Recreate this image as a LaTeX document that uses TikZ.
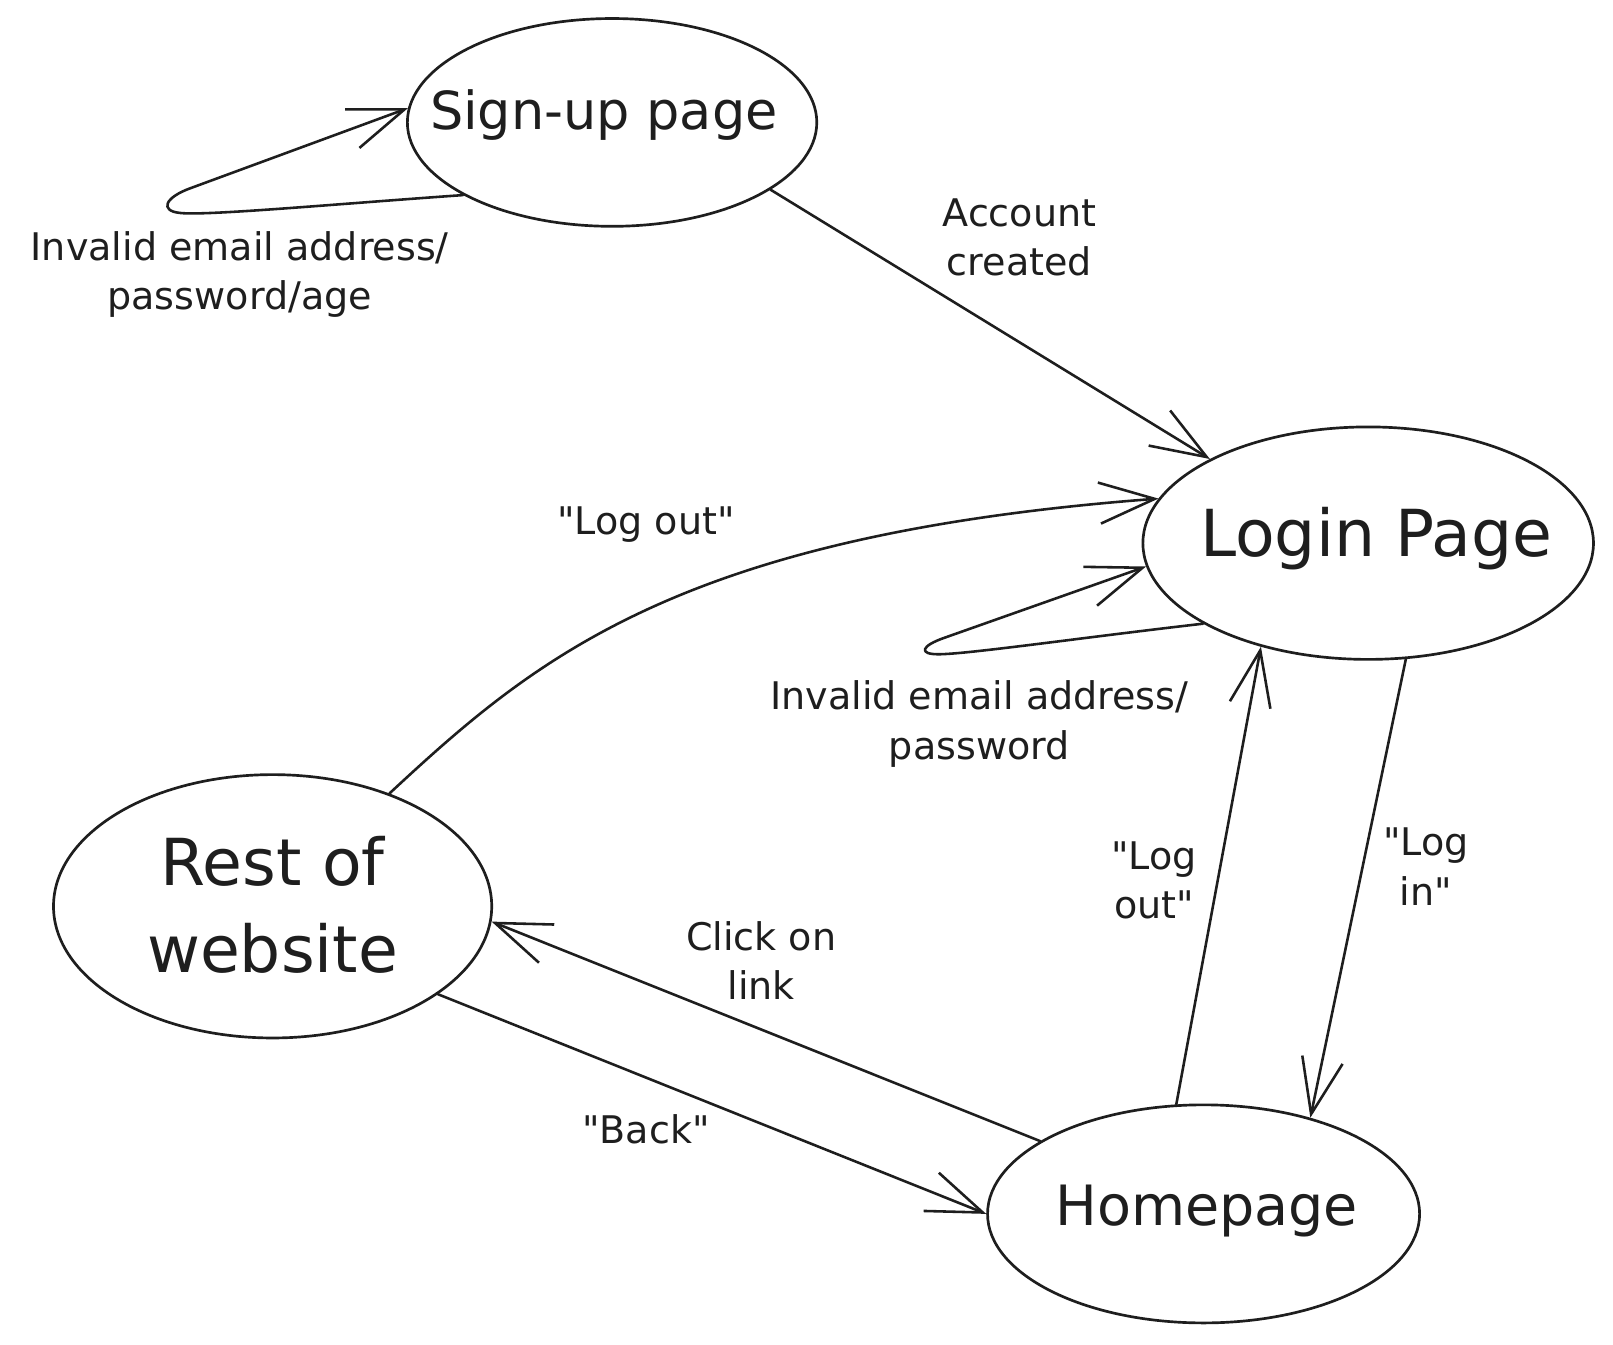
\documentclass[tikz,border=0pt]{standalone}
\usepackage{fontspec}
\setmainfont{DejaVu Sans}[Ligatures=TeXOff]
\usetikzlibrary{shapes.geometric,arrows.meta}
\definecolor{ink}{HTML}{1E1E1E}
\begin{document}
\begin{tikzpicture}[x=1pt,y=-1pt,
  state/.style={draw=ink, line width=2.6pt, ellipse, inner sep=0pt},
  arr/.style={draw=ink, line width=2.5pt, line cap=round, line join=round, -{Straight Barb[length=54pt,width=40pt]}},
  lbl/.style={text=ink, font=\fontsize{37}{48}\selectfont, align=center, inner sep=0pt, anchor=base},
  ttl/.style={text=ink, inner sep=0pt, anchor=base, align=center}]
\useasboundingbox (0,0) rectangle (1568,1307);
\fill[white] (0,0) rectangle (1568,1307);

% states
\node[state, minimum width=398pt, minimum height=202pt] (su) at (595,119) {};
\node[state, minimum width=438pt, minimum height=226pt] (lp) at (1330,528) {};
\node[state, minimum width=426pt, minimum height=256pt] (rw) at (265,881) {};
\node[state, minimum width=420pt, minimum height=212pt] (hp) at (1170,1180) {};

% state titles (base = baseline of the last line)
\node[ttl, font=\fontsize{51}{60}\selectfont] (sut) at (587,126) {Sign-up page};
\node[ttl, font=\fontsize{63}{75}\selectfont] (lpt) at (1338,541) {Login Page};
\node[ttl, font=\fontsize{63}{84}\selectfont] (rwt) at (265,945) {Rest of\\website};
\node[ttl, font=\fontsize{54}{64}\selectfont] (hpt) at (1173,1191) {Homepage};

% connectors
\draw[arr] (su.206) .. controls (330,198) and (200,210) .. (175,207)
           .. controls (155,205) and (160,192) .. (185,183) -- (su.176);
\draw[arr] (su.337) -- (lp.152);
\draw[arr] (lp.206) .. controls (1050,620) and (940,636) .. (912,636)
           .. controls (893,636) and (895,628) .. (918,620) -- (lp.186);
\draw[arr] (rw.44) .. controls (520,640) and (660,520) .. (lp.168);
\draw[arr] (lp.288) -- (hp.42);
\draw[arr] (hp.104) -- (lp.224);
\draw[arr] (hp.156) -- (rw.356);
\draw[arr] (rw.332) -- (hp.180);

% labels (base = baseline of the last line)
\node[lbl] (l1) at (233,301) {Invalid email address/\\password/age};
\node[lbl] (l2) at (991,268) {Account\\created};
\node[lbl] (l3) at (628,520) {"Log out"};
\node[lbl] (l4) at (952,738) {Invalid email address/\\password};
\node[lbl] (l5) at (1122,893) {"Log\\out"};
\node[lbl] (l6) at (1386,880) {"Log\\in"};
\node[lbl] (l7) at (740,972) {Click on\\link};
\node[lbl] (l8) at (628,1112) {"Back"};
\end{tikzpicture}
\end{document}
